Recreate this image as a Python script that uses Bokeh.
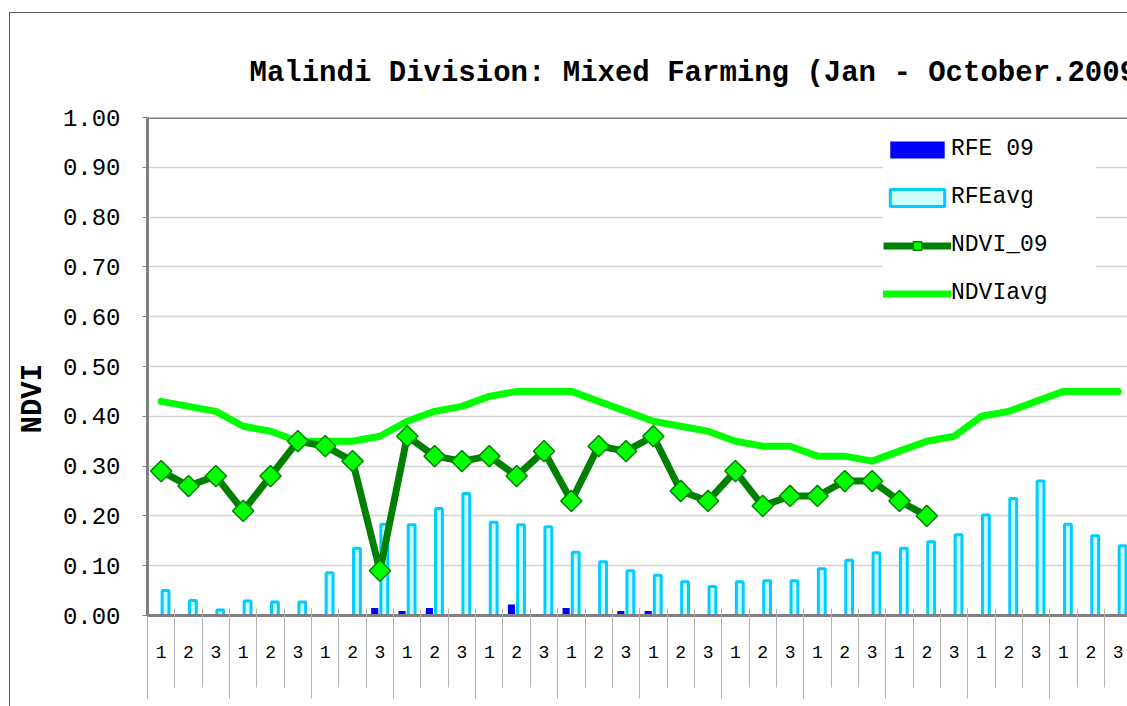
import math
from bokeh.plotting import figure
from bokeh.models import (Range1d, LinearAxis, FixedTicker, NumeralTickFormatter, Span, Title,
                          Legend, LegendItem, ColumnDataSource, Grid, CustomJSTickFormatter)
from bokeh.transform import dodge
from bokeh.embed import file_html
from bokeh.resources import INLINE

# ---------------- data ----------------
months = ["Jan", "Feb", "Mar", "Apr", "May", "Jun", "Jul", "Aug", "Sep", "Oct", "Nov", "Dec"]
dekads = ["1", "2", "3"]
y_ticks = [0.0, 0.1, 0.2, 0.3, 0.4, 0.5, 0.6, 0.7, 0.8, 0.9, 1.0]

rfe_09 = [0, 0, 0, 0, 0, 0, 0, 0, 0.015,
          0.009, 0.015, 0, 0, 0.022, 0, 0.015, 0, 0.009,
          0.009, 0, 0, 0, 0, 0, 0, 0, 0, 0, 0]
rfe_avg = [0.050, 0.030, 0.011, 0.029, 0.027, 0.027, 0.086, 0.135, 0.183,
           0.182, 0.215, 0.245, 0.187, 0.182, 0.178, 0.127, 0.108, 0.090,
           0.081, 0.068, 0.058, 0.068, 0.070, 0.070, 0.094, 0.111, 0.126,
           0.135, 0.148, 0.162, 0.202, 0.235, 0.270, 0.183, 0.160, 0.140]
ndvi_09 = [0.29, 0.26, 0.28, 0.21, 0.28, 0.35, 0.34, 0.31, 0.09,
           0.36, 0.32, 0.31, 0.32, 0.28, 0.33, 0.23, 0.34, 0.33,
           0.36, 0.25, 0.23, 0.29, 0.22, 0.24, 0.24, 0.27, 0.27,
           0.23, 0.20]
ndvi_avg = [0.43, 0.42, 0.41, 0.38, 0.37, 0.35, 0.35, 0.35, 0.36,
            0.39, 0.41, 0.42, 0.44, 0.45, 0.45, 0.45, 0.43, 0.41,
            0.39, 0.38, 0.37, 0.35, 0.34, 0.34, 0.32, 0.32, 0.31,
            0.33, 0.35, 0.36, 0.40, 0.41, 0.43, 0.45, 0.45, 0.45]

title_text = "Malindi Division: Mixed Farming (Jan - October.2009)"
y_label = "NDVI"

# categories (month, dekad) and their positions on a linear axis
cats = [(m, d) for m in months for d in dekads]
cat_x = [i + 0.5 for i in range(len(cats))]
dekad_labels = [d for (m, d) in cats]
bounds = list(range(len(cats) + 1))
month_bounds = list(range(0, len(cats) + 1, 3))

src_avg = ColumnDataSource(dict(x=cat_x, rfe=rfe_avg, ndvi=ndvi_avg))
src_09 = ColumnDataSource(dict(x=cat_x[:len(rfe_09)], rfe=rfe_09, ndvi=ndvi_09))

MONO = "Liberation Mono"
GRAY = "#808080"
SEP = "#b4b4b4"

p = figure(width=1127, height=706, output_backend="svg", toolbar_location=None,
           x_range=Range1d(0, 35.84), y_range=Range1d(0, 1),
           x_axis_type=None, y_axis_type=None,
           min_border_left=147, min_border_right=0, min_border_top=117, min_border_bottom=91,
           background_fill_color="white", border_fill_color="white", border_fill_alpha=0.0,
           outline_line_color=None)
# outer chart border (left and top edges visible in the window)
p.styles = {
    "background-color": "white",
    "background-image": "linear-gradient(#5a5a5a, #5a5a5a), linear-gradient(#5a5a5a, #5a5a5a)",
    "background-size": "1px calc(100% - 12px), calc(100% - 9px) 1px",
    "background-position": "9px 12px, 9px 12px",
    "background-repeat": "no-repeat",
}

# y axis
yax = LinearAxis(ticker=FixedTicker(ticks=y_ticks), formatter=NumeralTickFormatter(format="0.00"),
                 axis_line_color=GRAY, axis_line_width=3,
                 major_tick_out=5, major_tick_in=0, major_tick_line_color=GRAY,
                 minor_tick_line_color=None, major_label_standoff=22,
                 major_label_text_font=MONO, major_label_text_font_size="24px",
                 major_label_text_color="black")
p.add_layout(yax, "left")
p.add_layout(Grid(dimension=1, ticker=FixedTicker(ticks=y_ticks),
                  grid_line_color="#d4d4d4", grid_line_width=1.5))

# x axis: dekad labels
xa = LinearAxis(ticker=FixedTicker(ticks=cat_x),
                formatter=CustomJSTickFormatter(args=dict(labels=dekad_labels),
                                                code="const i = Math.floor(tick); return (i >= 0 && i < labels.length) ? labels[i] : '';"),
                axis_line_color=GRAY, axis_line_width=3,
                major_tick_line_color=None, major_tick_out=0, major_tick_in=0,
                minor_tick_line_color=None,
                major_label_standoff=30, major_label_text_font=MONO,
                major_label_text_font_size="18px", major_label_text_color="black")
p.add_layout(xa, "below")
# dekad separators (major) and month separators (minor, longer)
xb = LinearAxis(ticker=FixedTicker(ticks=bounds, minor_ticks=month_bounds),
                formatter=CustomJSTickFormatter(code="return '';"),
                axis_line_color=None,
                major_tick_line_color=SEP, major_tick_in=52, major_tick_out=27,
                minor_tick_line_color=SEP, minor_tick_in=52, minor_tick_out=38,
                major_label_standoff=0, major_label_text_font_size="0px")
p.add_layout(xb, "below")

# top border of plot area
p.add_layout(Span(location=1.0, dimension="width", line_color=GRAY, line_width=3))

# bars
r_rfe09 = p.vbar(x=dodge("x", -0.19, range=p.x_range), top="rfe", width=0.26, source=src_09,
                 fill_color="#0000FF", line_color=None)
r_rfeavg = p.vbar(x=dodge("x", 0.16, range=p.x_range), top="rfe", width=0.25, source=src_avg,
                  fill_color="#CCFFFF", line_color="#00CCFF", line_width=3)

# lines
r_avg = p.line(x="x", y="ndvi", source=src_avg, line_color="#00FF00", line_width=7,
               line_cap="round", line_join="round")
r_09l = p.line(x="x", y="ndvi", source=src_09, line_color="#008000", line_width=7,
               line_join="round")
r_09m = p.scatter(x="x", y="ndvi", source=src_09, marker="square", angle=math.pi / 4, size=15,
                  fill_color="#00FF00", line_color="#008000", line_width=1.5)

legend = Legend(items=[LegendItem(label="RFE 09", renderers=[r_rfe09]),
                       LegendItem(label="RFEavg", renderers=[r_rfeavg]),
                       LegendItem(label="NDVI_09", renderers=[r_09l, r_09m]),
                       LegendItem(label="NDVIavg", renderers=[r_avg])],
                location=(736, 308), padding=14, spacing=20, margin=0,
                glyph_width=68, glyph_height=21, label_standoff=0,
                label_width=145, label_height=28,
                label_text_font=MONO, label_text_font_size="23px", label_text_color="black",
                border_line_color=None, background_fill_color="white", background_fill_alpha=1.0)
p.add_layout(legend)

# title (above) and y label (left side)
p.add_layout(Title(text=title_text, align="left", offset=102, standoff=55,
                   text_font=MONO, text_font_size="29px", text_font_style="bold",
                   text_color="black"), "above")
p.add_layout(Title(text=y_label, align="left", offset=182, standoff=20,
                   text_font=MONO, text_font_size="29px", text_font_style="bold",
                   text_color="black"), "left")

open("out.html", "w").write(file_html(p, INLINE))
